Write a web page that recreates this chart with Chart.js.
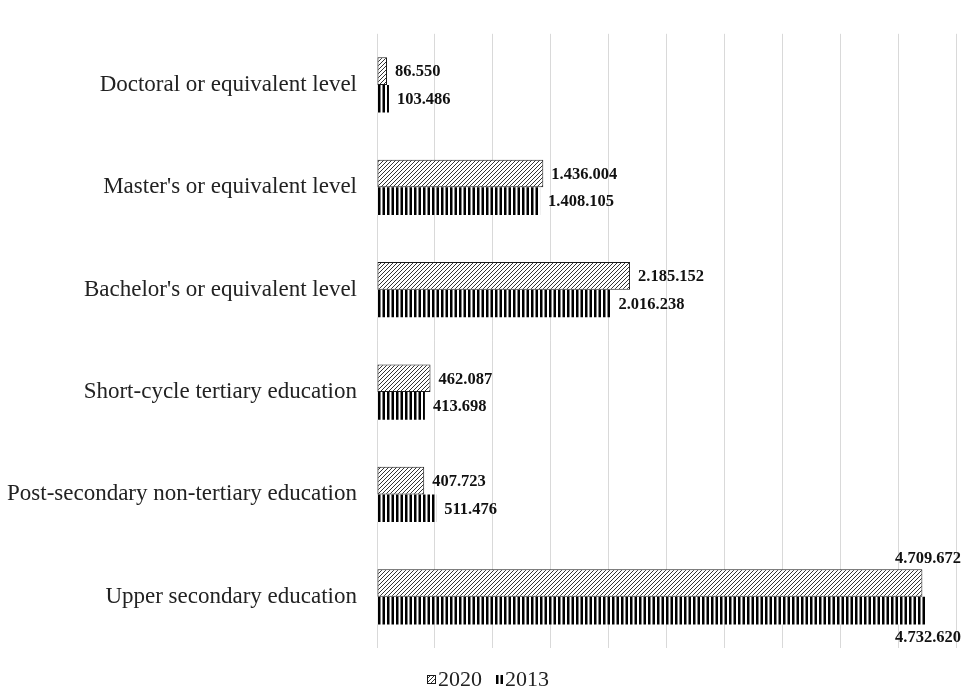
<!DOCTYPE html>
<html>
<head>
<meta charset="utf-8">
<script src="https://cdn.jsdelivr.net/npm/chart.js@4/dist/chart.umd.min.js"></script>
<style>
  html, body { margin: 0; padding: 0; background: #ffffff; }
  #wrap { width: 964px; height: 688px; position: relative; }
</style>
</head>
<body>
<div id="wrap"><canvas id="c"></canvas></div>
<script>
// ---- data ----
const categories = [
  "Doctoral or equivalent level",
  "Master's or equivalent level",
  "Bachelor's or equivalent level",
  "Short-cycle tertiary education",
  "Post-secondary non-tertiary education",
  "Upper secondary education"
];
const seriesNames = ["2020", "2013"];
const values2020 = [86550, 1436004, 2185152, 462087, 407723, 4709672];
const values2013 = [103486, 1408105, 2016238, 413698, 511476, 4732620];
const axisMax = 5000000;
const axisStep = 500000;

const SERIF = '"Liberation Serif", "Times New Roman", serif';

// ---- patterns ----
function hatchPattern() {
  const c = document.createElement('canvas');
  c.width = 4; c.height = 4;
  const g = c.getContext('2d');
  g.fillStyle = '#ffffff';
  g.fillRect(0, 0, 4, 4);
  g.strokeStyle = '#333333';
  g.lineWidth = 1;
  g.beginPath();
  g.moveTo(-1, 5); g.lineTo(5, -1);
  g.moveTo(-3, 3); g.lineTo(3, -3);
  g.moveTo(1, 7); g.lineTo(7, 1);
  g.stroke();
  return g.createPattern(c, 'repeat');
}
function stripePattern() {
  const c = document.createElement('canvas');
  c.width = 9; c.height = 4;
  const g = c.getContext('2d');
  g.fillStyle = '#ffffff';
  g.fillRect(0, 0, 9, 4);
  g.fillStyle = '#000000';
  g.fillRect(0, 0, 2.5, 4);
  g.fillRect(4.5, 0, 2.5, 4);
  return g.createPattern(c, 'repeat');
}
const pat2020 = hatchPattern();
const pat2013 = stripePattern();

function fmt(v) {
  return String(v).replace(/\B(?=(\d{3})+(?!\d))/g, '.');
}

// value labels at the bar ends
const valueLabels = {
  id: 'valueLabels',
  afterDatasetsDraw(chart) {
    const ctx = chart.ctx;
    ctx.save();
    ctx.font = 'bold 16.5px ' + SERIF;
    ctx.fillStyle = '#111111';
    ctx.textBaseline = 'middle';
    chart.data.datasets.forEach((ds, di) => {
      const meta = chart.getDatasetMeta(di);
      meta.data.forEach((bar, i) => {
        const txt = fmt(ds.data[i]);
        const w = ctx.measureText(txt).width;
        const x = bar.x + 8;
        if (x + w > chart.width - 2) {
          ctx.textAlign = 'right';
          const y = di === 0 ? bar.y - bar.height / 2 - 10 : bar.y + bar.height / 2 + 13;
          ctx.fillText(txt, chart.width - 3, y);
        } else {
          ctx.textAlign = 'left';
          ctx.fillText(txt, x, bar.y + 1);
        }
      });
    });
    ctx.restore();
  }
};

// compact legend below the plot (swatch right next to the text)
const bottomLegend = {
  id: 'bottomLegend',
  afterDraw(chart) {
    const ctx = chart.ctx;
    ctx.save();
    ctx.font = '22px ' + SERIF;
    ctx.textBaseline = 'middle';
    ctx.fillStyle = '#222222';
    const ds = chart.data.datasets;
    const boxW = [9, 7];
    const gapBoxText = 2, gapItems = 14;
    let total = 0;
    ds.forEach((d, i) => {
      total += boxW[i] + gapBoxText + ctx.measureText(d.label).width;
      if (i < ds.length - 1) total += gapItems;
    });
    let x = 488 - total / 2;
    const cy = 680;
    ds.forEach((d, i) => {
      ctx.save();
      ctx.translate(x, cy - 5);
      ctx.fillStyle = d.backgroundColor;
      ctx.fillRect(0, 0, boxW[i], 9);
      if (d.borderWidth) {
        ctx.strokeStyle = d.borderColor;
        ctx.lineWidth = 1;
        ctx.strokeRect(0.5, 0.5, boxW[i] - 1, 8);
      }
      ctx.restore();
      x += boxW[i] + gapBoxText;
      ctx.textAlign = 'left';
      ctx.fillText(d.label, x, cy);
      x += ctx.measureText(d.label).width + gapItems;
    });
    ctx.restore();
  }
};

new Chart(document.getElementById('c'), {
  type: 'bar',
  data: {
    labels: categories,
    datasets: [
      {
        label: seriesNames[0],
        data: values2020,
        backgroundColor: pat2020,
        borderColor: '#1a1a1a',
        borderWidth: 1,
        borderSkipped: false,
        categoryPercentage: 0.54,
        barPercentage: 1.0
      },
      {
        label: seriesNames[1],
        data: values2013,
        backgroundColor: pat2013,
        borderWidth: 0,
        categoryPercentage: 0.54,
        barPercentage: 1.0
      }
    ]
  },
  options: {
    indexAxis: 'y',
    responsive: true,
    maintainAspectRatio: false,
    animation: false,
    layout: { padding: { top: 10, right: 8, left: 0, bottom: 40 } },
    scales: {
      x: {
        min: 0,
        max: axisMax,
        ticks: { display: false, stepSize: axisStep },
        grid: { color: '#d9d9d9', lineWidth: 1, drawTicks: false },
        border: { display: false },
        afterFit(scale) { scale.height = 0; }
      },
      y: {
        grid: { display: false, drawTicks: false },
        border: { display: false },
        ticks: {
          color: '#222222',
          padding: 20,
          font: { family: SERIF, size: 23 }
        },
        afterFit(scale) { scale.width = 377; }
      }
    },
    plugins: {
      legend: { display: false },
      tooltip: { enabled: false }
    }
  },
  plugins: [valueLabels, bottomLegend]
});
</script>
</body>
</html>
